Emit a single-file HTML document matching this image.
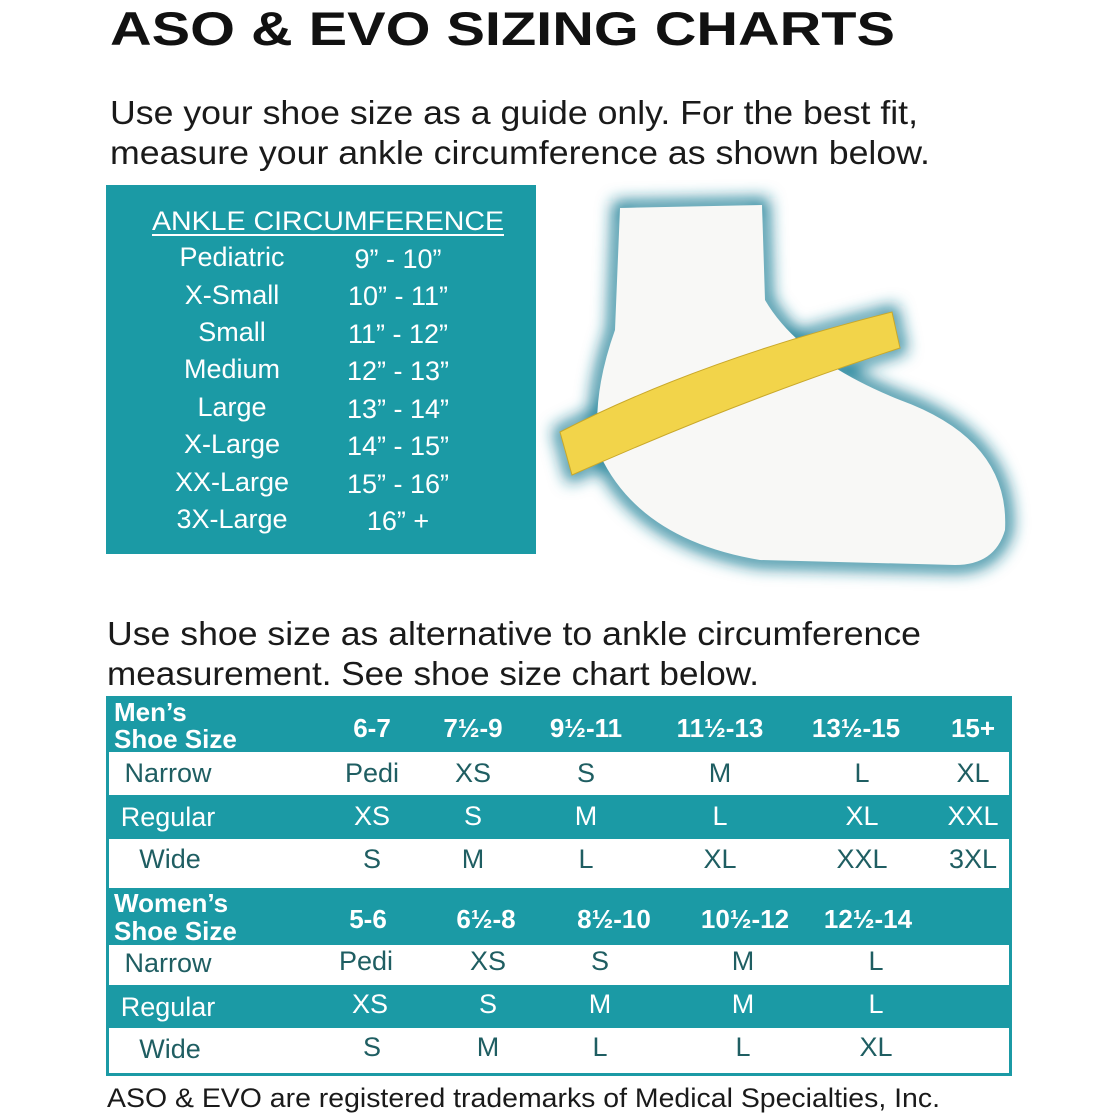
<!DOCTYPE html>
<html><head><meta charset="utf-8"><style>
html,body{margin:0;padding:0;background:#fff;}
svg{display:block;}
text{font-family:"Liberation Sans",sans-serif;}
</style></head><body>
<svg width="1120" height="1120" viewBox="0 0 1120 1120" xmlns="http://www.w3.org/2000/svg">
<defs>
<filter id="glow" x="-20%" y="-20%" width="140%" height="140%"><feGaussianBlur stdDeviation="8"/></filter>
</defs>
<text x="110" y="45" font-size="47" font-weight="bold" fill="#111" textLength="785" lengthAdjust="spacingAndGlyphs">ASO &amp; EVO SIZING CHARTS</text>
<text x="110" y="124" font-size="33" fill="#1a1a1a" textLength="808" lengthAdjust="spacingAndGlyphs">Use your shoe size as a guide only. For the best fit,</text>
<text x="110" y="164" font-size="33" fill="#1a1a1a" textLength="820" lengthAdjust="spacingAndGlyphs">measure your ankle circumference as shown below.</text>

<rect x="106" y="185" width="430" height="369" fill="#1b9aa5"/>
<g fill="#fff" font-size="27" text-anchor="middle">
<text x="328" y="230" textLength="352" lengthAdjust="spacingAndGlyphs">ANKLE CIRCUMFERENCE</text>
<rect x="152" y="234" width="352" height="2"/>
<text x="232" y="266">Pediatric</text><text x="398" y="268">9” - 10”</text>
<text x="232" y="304">X-Small</text><text x="398" y="305">10” - 11”</text>
<text x="232" y="341">Small</text><text x="398" y="343">11” - 12”</text>
<text x="232" y="378">Medium</text><text x="398" y="380">12” - 13”</text>
<text x="232" y="416">Large</text><text x="398" y="418">13” - 14”</text>
<text x="232" y="453">X-Large</text><text x="398" y="455">14” - 15”</text>
<text x="232" y="491">XX-Large</text><text x="398" y="493">15” - 16”</text>
<text x="232" y="528">3X-Large</text><text x="398" y="530">16” +</text>
</g>

<!-- sock -->
<g filter="url(#glow)">
<path d="M620,208 L762,205 L765,300 Q800,360 900,400 Q1010,440 1005,530 Q995,565 955,565 L760,560 Q640,540 600,455 Q590,400 615,330 Z" fill="none" stroke="#1e7f96" stroke-width="14"/>
<path d="M560,432 Q700,360 892,312 L900,348 Q740,400 572,475 Z" fill="none" stroke="#1e7f96" stroke-width="12"/>
</g>
<path d="M620,208 L762,205 L765,300 Q800,360 900,400 Q1010,440 1005,530 Q995,565 955,565 L760,560 Q640,540 600,455 Q590,400 615,330 Z" fill="#f8f8f6"/>
<path d="M560,432 Q700,360 892,312 L900,348 Q740,400 572,475 Z" fill="#f2d44a" stroke="#c9a82a" stroke-width="1"/>

<text x="107" y="645" font-size="33" fill="#1a1a1a" textLength="814" lengthAdjust="spacingAndGlyphs">Use shoe size as alternative to ankle circumference</text>
<text x="107" y="685" font-size="33" fill="#1a1a1a" textLength="652" lengthAdjust="spacingAndGlyphs">measurement. See shoe size chart below.</text>

<rect x="106" y="696" width="906" height="380" fill="#1b9aa5"/>
<rect x="109" y="752" width="900" height="43" fill="#fff"/>
<rect x="109" y="839" width="900" height="49" fill="#fff"/>
<rect x="109" y="945" width="900" height="40" fill="#fff"/>
<rect x="109" y="1028" width="900" height="45" fill="#fff"/>

<g font-weight="bold" fill="#fff" font-size="26">
<text x="114" y="721">Men’s</text><text x="114" y="748">Shoe Size</text>
<text x="114" y="912">Women’s</text><text x="114" y="940">Shoe Size</text>
</g>
<g font-weight="bold" fill="#fff" font-size="26" text-anchor="middle">
<text x="372" y="737">6-7</text><text x="473" y="737">7½-9</text><text x="586" y="737">9½-11</text><text x="720" y="737">11½-13</text><text x="856" y="737">13½-15</text><text x="973" y="737">15+</text>
<text x="368" y="928">5-6</text><text x="486" y="928">6½-8</text><text x="614" y="928">8½-10</text><text x="745" y="928">10½-12</text><text x="868" y="928">12½-14</text>
</g>
<g font-size="27" text-anchor="middle">
<g fill="#1f5e62">
<text x="168" y="782">Narrow</text><text x="372" y="782">Pedi</text><text x="473" y="782">XS</text><text x="586" y="782">S</text><text x="720" y="782">M</text><text x="862" y="782">L</text><text x="973" y="782">XL</text>
<text x="170" y="868">Wide</text><text x="372" y="868">S</text><text x="473" y="868">M</text><text x="586" y="868">L</text><text x="720" y="868">XL</text><text x="862" y="868">XXL</text><text x="973" y="868">3XL</text>
<text x="168" y="972">Narrow</text><text x="366" y="970">Pedi</text><text x="488" y="970">XS</text><text x="600" y="970">S</text><text x="743" y="970">M</text><text x="876" y="970">L</text>
<text x="170" y="1058">Wide</text><text x="372" y="1056">S</text><text x="488" y="1056">M</text><text x="600" y="1056">L</text><text x="743" y="1056">L</text><text x="876" y="1056">XL</text>
</g>
<g fill="#fff">
<text x="168" y="826">Regular</text><text x="372" y="825">XS</text><text x="473" y="825">S</text><text x="586" y="825">M</text><text x="720" y="825">L</text><text x="862" y="825">XL</text><text x="973" y="825">XXL</text>
<text x="168" y="1016">Regular</text><text x="370" y="1013">XS</text><text x="488" y="1013">S</text><text x="600" y="1013">M</text><text x="743" y="1013">M</text><text x="876" y="1013">L</text>
</g>
</g>
<text x="107" y="1107" font-size="27" fill="#1a1a1a" textLength="833" lengthAdjust="spacingAndGlyphs">ASO &amp; EVO are registered trademarks of Medical Specialties, Inc.</text>
</svg>
</body></html>
